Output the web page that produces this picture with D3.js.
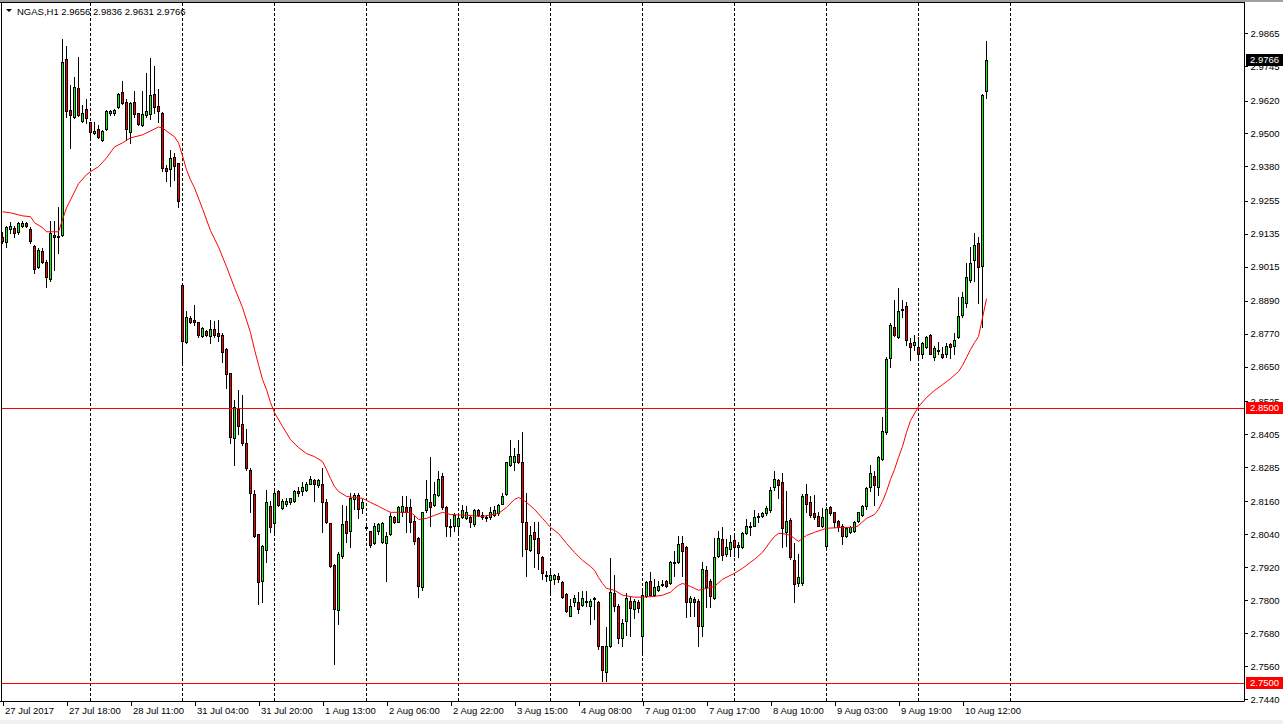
<!DOCTYPE html>
<html><head><meta charset="utf-8">
<script src="https://cdn.jsdelivr.net/npm/d3@7/dist/d3.min.js"></script>
<style>
body{margin:0;background:#fff;overflow:hidden}
svg text{font-family:"Liberation Sans",Arial,sans-serif;font-size:9.5px;fill:#000}
</style>
</head><body><svg id="chart" width="1283" height="724"></svg>
<script>
// ---- data (NGAS, H1) ----
const opens = [2.9124,2.9106,2.9153,2.9157,2.9142,2.9164,2.9175,2.9153,2.9091,2.9015,
2.9073,2.9033,2.8971,2.9131,2.9127,2.9131,2.9771,2.9586,2.9560,2.9666,
2.9546,2.9589,2.9542,2.9502,2.9517,2.9477,2.9517,2.9575,2.9575,2.9597,
2.9651,2.9615,2.9506,2.9615,2.9575,2.9531,2.9568,2.9571,2.9644,2.9600,
2.9575,2.9375,2.9371,2.9415,2.9393,2.8949,2.8742,2.8829,2.8822,2.8815,
2.8764,2.8782,2.8764,2.8789,2.8775,2.8767,2.8716,2.8629,2.8389,2.8498,
2.8440,2.8374,2.8276,2.8185,2.8040,2.7869,2.7982,2.8142,2.8080,2.8196,
2.8134,2.8152,2.8156,2.8160,2.8196,2.8196,2.8200,2.8225,2.8236,2.8218,
2.8225,2.8156,2.8080,2.7927,2.7763,2.7960,2.8087,2.8051,2.8167,2.8182,
2.8134,2.8065,2.8051,2.8007,2.8051,2.8011,2.8007,2.8040,2.8102,2.8083,
2.8123,2.8138,2.8138,2.8087,2.8025,2.7847,2.8127,2.8156,2.8145,2.8182,
2.8251,2.8138,2.8065,2.8072,2.8069,2.8102,2.8098,2.8102,2.8076,2.8127,
2.8109,2.8102,2.8102,2.8112,2.8116,2.8152,2.8185,2.8294,2.8305,2.8331,
2.8302,2.8083,2.7982,2.8047,2.8025,2.7956,2.7891,2.7873,2.7876,2.7887,
2.7865,2.7821,2.7741,2.7792,2.7792,2.7781,2.7796,2.7778,2.7807,2.7792,
2.7632,2.7538,2.7632,2.7825,2.7778,2.7661,2.7723,2.7796,2.7767,2.7792,
2.7669,2.7814,2.7869,2.7818,2.7836,2.7858,2.7869,2.7861,2.7938,2.7938,
2.8007,2.7992,2.7792,2.7803,2.7796,2.7705,2.7909,2.7869,2.7807,2.7960,
2.8022,2.7967,2.7985,2.8018,2.7992,2.7992,2.8043,2.8065,2.8072,2.8105,
2.8105,2.8116,2.8127,2.8211,2.8236,2.8229,2.8047,2.8091,2.7945,2.7861,
2.7861,2.8185,2.8156,2.8116,2.8105,2.8069,2.7996,2.8138,2.8120,2.8087,
2.8069,2.8032,2.8047,2.8051,2.8087,2.8109,2.8142,2.8211,2.8251,2.8214,
2.8313,2.8411,2.8684,2.8796,2.8760,2.8862,2.8873,2.8738,2.8731,2.8724,
2.8695,2.8724,2.8767,2.8687,2.8713,2.8698,2.8695,2.8735,2.8727,2.8760,
2.8840,2.8884,2.8967,2.9040,2.9102,2.9018,2.9656];
const highs = [2.9142,2.9164,2.9178,2.9164,2.9178,2.9182,2.9178,2.9160,2.9095,2.9084,
2.9084,2.9040,2.9182,2.9182,2.9233,2.9844,2.9819,2.9677,2.9706,2.9779,
2.9604,2.9626,2.9542,2.9542,2.9531,2.9513,2.9586,2.9586,2.9589,2.9648,
2.9691,2.9626,2.9615,2.9655,2.9575,2.9655,2.9720,2.9775,2.9746,2.9662,
2.9579,2.9386,2.9440,2.9429,2.9393,2.8949,2.8855,2.8836,2.8876,2.8815,
2.8796,2.8786,2.8822,2.8818,2.8822,2.8775,2.8720,2.8629,2.8531,2.8564,
2.8549,2.8425,2.8280,2.8200,2.8040,2.8000,2.8200,2.8160,2.8196,2.8203,
2.8167,2.8171,2.8174,2.8200,2.8211,2.8229,2.8232,2.8251,2.8240,2.8243,
2.8280,2.8167,2.8080,2.7931,2.7974,2.8145,2.8142,2.8192,2.8192,2.8189,
2.8167,2.8069,2.8051,2.8080,2.8080,2.8083,2.8047,2.8116,2.8105,2.8142,
2.8178,2.8178,2.8167,2.8105,2.8029,2.8120,2.8236,2.8320,2.8232,2.8272,
2.8265,2.8142,2.8094,2.8116,2.8109,2.8145,2.8142,2.8105,2.8131,2.8131,
2.8120,2.8112,2.8138,2.8142,2.8152,2.8192,2.8305,2.8385,2.8353,2.8385,
2.8411,2.8189,2.8069,2.8083,2.8083,2.7960,2.7905,2.7905,2.7894,2.7898,
2.7869,2.7825,2.7803,2.7818,2.7829,2.7832,2.7832,2.7803,2.7811,2.7796,
2.7632,2.7701,2.7953,2.7891,2.7785,2.7730,2.7825,2.7811,2.7803,2.7800,
2.7832,2.7869,2.7902,2.7876,2.7869,2.7873,2.7873,2.7942,2.7978,2.8032,
2.8032,2.7996,2.7814,2.7811,2.7803,2.7938,2.7923,2.7876,2.8025,2.8051,
2.8065,2.8022,2.8036,2.8040,2.8011,2.8047,2.8094,2.8083,2.8127,2.8116,
2.8120,2.8142,2.8211,2.8269,2.8240,2.8262,2.8196,2.8098,2.8007,2.7967,
2.8185,2.8225,2.8178,2.8182,2.8123,2.8134,2.8138,2.8142,2.8120,2.8091,
2.8076,2.8065,2.8069,2.8087,2.8123,2.8145,2.8214,2.8294,2.8272,2.8327,
2.8469,2.8687,2.8811,2.8895,2.8938,2.8895,2.8887,2.8756,2.8767,2.8760,
2.8742,2.8764,2.8771,2.8727,2.8742,2.8724,2.8738,2.8738,2.8775,2.8906,
2.8924,2.9029,2.9087,2.9138,2.9124,2.9644,2.9836];
const lows = [2.9102,2.9087,2.9138,2.9124,2.9135,2.9160,2.9160,2.9102,2.8993,2.9011,
2.9029,2.8942,2.8964,2.9004,2.9066,2.9127,2.9560,2.9448,2.9557,2.9564,
2.9542,2.9538,2.9488,2.9499,2.9484,2.9473,2.9513,2.9568,2.9568,2.9593,
2.9608,2.9477,2.9466,2.9560,2.9531,2.9528,2.9560,2.9553,2.9575,2.9542,
2.9364,2.9328,2.9309,2.9331,2.9233,2.8655,2.8738,2.8811,2.8804,2.8760,
2.8760,2.8764,2.8738,2.8760,2.8745,2.8669,2.8574,2.8374,2.8291,2.8407,
2.8367,2.8276,2.8123,2.8029,2.7785,2.7792,2.7938,2.8047,2.8047,2.8142,
2.8131,2.8142,2.8152,2.8156,2.8178,2.8182,2.8196,2.8222,2.8163,2.8214,
2.8047,2.8080,2.7920,2.7567,2.7712,2.7952,2.8011,2.7992,2.8131,2.8098,
2.8116,2.8054,2.7992,2.8003,2.8040,2.8007,2.7869,2.8036,2.8080,2.8083,
2.8105,2.8047,2.8047,2.8003,2.7811,2.7836,2.8120,2.8069,2.8142,2.8178,
2.8131,2.8032,2.8032,2.8051,2.8047,2.8098,2.8094,2.8065,2.8072,2.8105,
2.8094,2.8087,2.8094,2.8105,2.8112,2.8149,2.8182,2.8287,2.8276,2.8298,
2.7960,2.7887,2.7978,2.7920,2.7912,2.7876,2.7869,2.7829,2.7858,2.7865,
2.7807,2.7756,2.7741,2.7778,2.7752,2.7778,2.7778,2.7712,2.7730,2.7621,
2.7505,2.7505,2.7629,2.7760,2.7643,2.7632,2.7672,2.7669,2.7734,2.7756,
2.7603,2.7811,2.7814,2.7814,2.7832,2.7850,2.7847,2.7858,2.7887,2.7934,
2.7887,2.7738,2.7741,2.7741,2.7632,2.7669,2.7774,2.7774,2.7803,2.7956,
2.7945,2.7960,2.7960,2.7960,2.7956,2.7989,2.8040,2.8036,2.8069,2.8083,
2.8102,2.8112,2.8123,2.8203,2.8174,2.7992,2.7996,2.7949,2.7792,2.7850,
2.7854,2.8120,2.8102,2.8094,2.8069,2.8065,2.7992,2.8112,2.8065,2.8051,
2.8003,2.8029,2.8043,2.8047,2.8083,2.8105,2.8131,2.8196,2.8145,2.8182,
2.8309,2.8407,2.8651,2.8764,2.8756,2.8833,2.8731,2.8676,2.8713,2.8676,
2.8684,2.8720,2.8695,2.8676,2.8695,2.8684,2.8687,2.8684,2.8695,2.8756,
2.8833,2.8869,2.8960,2.8964,2.8884,2.8796,2.9631];
const closes = [2.9109,2.9160,2.9164,2.9138,2.9175,2.9175,2.9164,2.9109,2.9007,2.9077,
2.9033,2.8978,2.9138,2.9124,2.9124,2.9760,2.9582,2.9568,2.9670,2.9568,
2.9575,2.9557,2.9506,2.9509,2.9488,2.9509,2.9582,2.9582,2.9586,2.9644,
2.9611,2.9517,2.9611,2.9571,2.9535,2.9571,2.9582,2.9640,2.9597,2.9582,
2.9375,2.9364,2.9411,2.9382,2.9255,2.8745,2.8833,2.8815,2.8815,2.8767,
2.8793,2.8767,2.8789,2.8767,2.8764,2.8705,2.8625,2.8396,2.8502,2.8433,
2.8371,2.8280,2.8189,2.8032,2.7865,2.7996,2.8156,2.8065,2.8189,2.8145,
2.8160,2.8163,2.8171,2.8196,2.8189,2.8214,2.8225,2.8243,2.8225,2.8236,
2.8156,2.8083,2.7923,2.7767,2.7967,2.8076,2.8043,2.8174,2.8182,2.8131,
2.8156,2.8062,2.8000,2.8072,2.8076,2.8080,2.8032,2.8105,2.8083,2.8138,
2.8142,2.8123,2.8083,2.8014,2.7850,2.8120,2.8167,2.8138,2.8185,2.8243,
2.8138,2.8069,2.8072,2.8109,2.8098,2.8127,2.8123,2.8083,2.8127,2.8112,
2.8102,2.8098,2.8123,2.8127,2.8145,2.8178,2.8302,2.8327,2.8327,2.8302,
2.8083,2.7985,2.8036,2.8022,2.7971,2.7898,2.7887,2.7891,2.7891,2.7876,
2.7811,2.7760,2.7778,2.7807,2.7767,2.7807,2.7792,2.7796,2.7803,2.7632,
2.7545,2.7632,2.7829,2.7778,2.7661,2.7716,2.7807,2.7771,2.7796,2.7771,
2.7818,2.7865,2.7818,2.7847,2.7850,2.7856,2.7850,2.7938,2.7937,2.8003,
2.7978,2.7792,2.7807,2.7792,2.7705,2.7913,2.7847,2.7814,2.7956,2.8025,
2.7963,2.7992,2.8011,2.7992,2.8000,2.8043,2.8072,2.8072,2.8102,2.8103,
2.8116,2.8134,2.8203,2.8243,2.8218,2.8062,2.8087,2.7956,2.7858,2.7883,
2.8178,2.8152,2.8112,2.8102,2.8072,2.8102,2.8131,2.8116,2.8083,2.8065,
2.8032,2.8062,2.8065,2.8083,2.8120,2.8142,2.8207,2.8265,2.8218,2.8320,
2.8418,2.8680,2.8804,2.8767,2.8855,2.8858,2.8749,2.8724,2.8742,2.8695,
2.8738,2.8760,2.8698,2.8720,2.8709,2.8687,2.8727,2.8724,2.8749,2.8836,
2.8906,2.8978,2.9029,2.9095,2.9015,2.9640,2.9766];

// moving average (red line), sampled at bar index
const maIndex = [0,2,5,7,8,10,11,14,15,16,17,19,21,22,24,26,28,30,32,35,37,39,40,41,43,44,45,46,47,48,50,52,54,56,58,60,62,63,64,65,66,67,68,70,72,74,76,78,80,81,82,83,84,86,88,90,92,94,96,97,100,102,103,104,106,108,110,112,116,120,124,126,128,129,130,131,133,135,137,139,141,143,145,147,148,149,150,151,153,155,158,160,163,165,167,168,169,170,172,174,176,178,180,183,185,188,190,192,193,194,195,197,198,199,200,201,203,206,210,213,214,216,218,219,220,221,222,223,224,225,226,227,229,231,233,235,237,239,240,241,242,243,244,245,246];
const maValues = [2.9215,2.9211,2.9200,2.9197,2.9175,2.9157,2.9142,2.9142,2.9186,2.9229,2.9258,2.9317,2.9350,2.9361,2.9379,2.9411,2.9451,2.9466,2.9484,2.9495,2.9509,2.9524,2.9520,2.9509,2.9488,2.9466,2.9419,2.9368,2.9331,2.9302,2.9226,2.9146,2.9087,2.9015,2.8938,2.8866,2.8775,2.8713,2.8658,2.8604,2.8567,2.8520,2.8483,2.8433,2.8385,2.8356,2.8334,2.8323,2.8305,2.8276,2.8243,2.8214,2.8196,2.8178,2.8174,2.8171,2.8156,2.8142,2.8127,2.8120,2.8120,2.8120,2.8109,2.8094,2.8098,2.8109,2.8120,2.8112,2.8109,2.8105,2.8116,2.8138,2.8167,2.8174,2.8167,2.8156,2.8131,2.8098,2.8065,2.8043,2.8007,2.7974,2.7945,2.7923,2.7909,2.7883,2.7861,2.7843,2.7836,2.7818,2.7811,2.7811,2.7814,2.7818,2.7829,2.7843,2.7854,2.7861,2.7850,2.7836,2.7843,2.7850,2.7876,2.7898,2.7916,2.7949,2.7974,2.8014,2.8032,2.8043,2.8043,2.8036,2.8025,2.8014,2.8025,2.8036,2.8047,2.8062,2.8065,2.8065,2.8072,2.8098,2.8112,2.8131,2.8160,2.8196,2.8240,2.8276,2.8320,2.8360,2.8411,2.8454,2.8505,2.8538,2.8564,2.8585,2.8607,2.8633,2.8655,2.8684,2.8713,2.8738,2.8760,2.8829,2.8898];

const priceTicks = [2.9865,2.9745,2.9620,2.9500,2.9380,2.9255,2.9135,2.9015,2.8890,2.8770,2.8650,2.8525,2.8405,2.8285,2.8160,2.8040,2.7920,2.7800,2.7680,2.7560,2.7440];
const timeLabels = ["27 Jul 2017","27 Jul 18:00","28 Jul 11:00","31 Jul 04:00","31 Jul 20:00","1 Aug 13:00","2 Aug 06:00","2 Aug 22:00","3 Aug 15:00","4 Aug 08:00","7 Aug 01:00","7 Aug 17:00","8 Aug 10:00","9 Aug 03:00","9 Aug 19:00","10 Aug 12:00"];
const timeLabelIndex = [0,16,32,48,64,80,96,112,128,144,160,176,192,208,224,240];
const gridIndex = [22,45,68,91,114,137,160,183,206,229,252];
const levelLines = [2.8500,2.7500];
const symbolName = "NGAS,H1";

// ---- layout ----
const W = 1283, H = 724;
const plotL = 1.5, plotR = 1244.5, plotT = 2.5, plotB = 701.5;
const svg = d3.select("#chart");
const n = closes.length;
const x = d3.scaleLinear().domain([0, n - 1]).range([2.5, 986.5]);
const y = d3.scaleLinear().domain([2.7440, 2.9865]).range([699.0, 33.3]);
const fmt = d3.format(".4f");
const py = v => Math.round(y(v)) + 0.5;

// background bands
svg.append("rect").attr("x",0).attr("y",0).attr("width",W).attr("height",2).attr("fill","#a0a0a0");
svg.append("rect").attr("x",0).attr("y",720).attr("width",W).attr("height",4).attr("fill","#f0f0f0");

svg.append("defs").append("clipPath").attr("id","plotclip")
  .append("rect").attr("x",2).attr("y",3).attr("width",plotR-2).attr("height",plotB-3);
const plot = svg.append("g").attr("clip-path","url(#plotclip)");

// vertical dashed grid
plot.selectAll("line.grid").data(gridIndex).join("line")
  .attr("x1", d => x(d)).attr("x2", d => x(d))
  .attr("y1", plotT).attr("y2", plotB)
  .attr("stroke","#000").attr("stroke-width",1).attr("stroke-dasharray","3,2")
  .attr("shape-rendering","crispEdges");

const idx = d3.range(n);
// wicks
plot.selectAll("line.wick").data(idx).join("line")
  .attr("x1", i => x(i)).attr("x2", i => x(i))
  .attr("y1", i => Math.round(y(highs[i]))).attr("y2", i => Math.round(y(lows[i])) + 1)
  .attr("stroke","#000").attr("stroke-width",1).attr("shape-rendering","crispEdges");
// bodies
plot.selectAll("rect.body").data(idx).join("rect")
  .attr("x", i => x(i) - 1)
  .attr("width", 2)
  .attr("y", i => py(Math.max(opens[i], closes[i])))
  .attr("height", i => Math.max(0, py(Math.min(opens[i], closes[i])) - py(Math.max(opens[i], closes[i]))))
  .attr("fill", i => closes[i] > opens[i] ? "#00ff00" : (closes[i] < opens[i] ? "#ff0000" : "#000"))
  .attr("stroke","#000").attr("stroke-width",1).attr("shape-rendering","crispEdges");

// moving average
const maLine = d3.line().x(d => x(d[0])).y(d => y(d[1]));
plot.append("path").datum(maIndex.map((d,i)=>[d, maValues[i]]))
  .attr("d", maLine).attr("fill","none").attr("stroke","#ff0000").attr("stroke-width",1);

// horizontal level lines
plot.selectAll("line.level").data(levelLines).join("line")
  .attr("x1", 0).attr("x2", plotR)
  .attr("y1", d => py(d)).attr("y2", d => py(d))
  .attr("stroke","#ff0000").attr("stroke-width",1).attr("shape-rendering","crispEdges");

// frame
svg.append("line").attr("x1",plotL).attr("x2",plotL).attr("y1",plotT).attr("y2",plotB).attr("stroke","#000").attr("shape-rendering","crispEdges");
svg.append("line").attr("x1",0).attr("x2",plotR).attr("y1",plotT).attr("y2",plotT).attr("stroke","#000").attr("shape-rendering","crispEdges");

// right price axis
const yAxis = d3.axisRight(y).tickValues(priceTicks).tickSize(3).tickPadding(3).tickFormat(fmt);
const ga = svg.append("g").attr("transform",`translate(${plotR},0)`).call(yAxis);
ga.select(".domain").attr("stroke","#000").attr("d",`M0,${plotT}V${plotB}`);
ga.selectAll(".tick line").attr("stroke","#000").attr("shape-rendering","crispEdges");
ga.selectAll(".tick text").style("fill","#000");
ga.attr("font-family",null).attr("font-size",null);

// bottom time axis
const xAxis = d3.axisBottom(x).tickValues(timeLabelIndex).tickSize(4).tickPadding(2)
  .tickFormat((d,i) => timeLabels[i]);
const gb = svg.append("g").attr("transform",`translate(0,${plotB})`).call(xAxis);
gb.select(".domain").attr("stroke","#000").attr("d",`M0,0H${plotR}`);
gb.selectAll(".tick line").attr("stroke","#000").attr("shape-rendering","crispEdges");
gb.selectAll(".tick text").attr("text-anchor","start").attr("x",2).attr("dy","0.71em").style("fill","#000");
gb.attr("font-family",null).attr("font-size",null);

// price labels on axis (drawn over the tick labels, as in the terminal)
function axisLabel(v, bg) {
  const yy = Math.round(y(v));
  svg.append("rect").attr("x", plotR + 1.5).attr("y", yy - 6).attr("width", 37).attr("height", 12).attr("fill", bg);
  svg.append("text").attr("x", plotR + 5.5).attr("y", yy).attr("dy","0.35em").text(fmt(v)).style("fill","#fff");
}
levelLines.forEach(v => axisLabel(v, "#ff0000"));
axisLabel(closes[n-1], "#000");

// header
svg.append("path").attr("d","M6,9H12L9,12Z").attr("fill","#000");
svg.append("text").attr("x",17).attr("y",14.5)
  .text(`${symbolName}  ${fmt(opens[n-1])} ${fmt(highs[n-1])} ${fmt(lows[n-1])} ${fmt(closes[n-1])}`);
</script>
</body></html>
